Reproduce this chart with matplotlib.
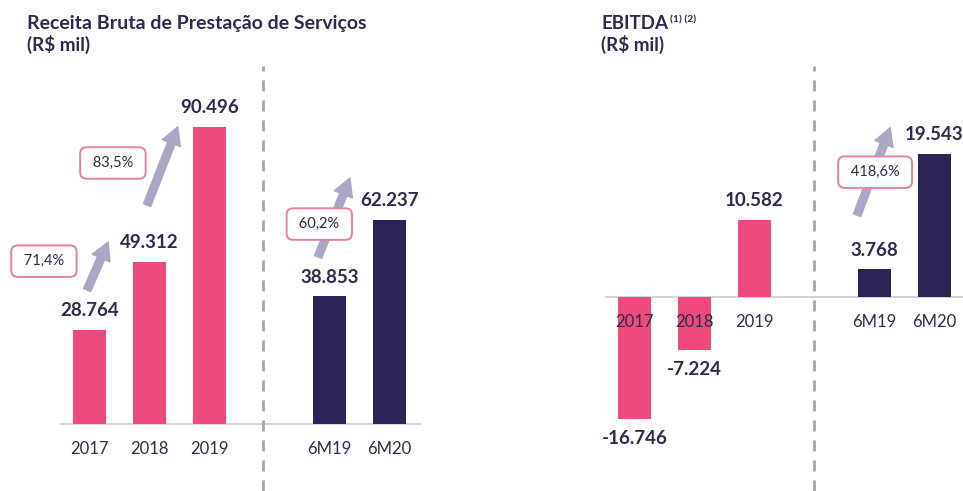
import matplotlib
matplotlib.use('Agg')
import matplotlib.pyplot as plt

plt.rcParams['font.family'] = ['Lato', 'DejaVu Sans']

# data
categories = ['2017', '2018', '2019', '6M19', '6M20']
receita = [28764, 49312, 90496, 38853, 62237]
ebitda = [-16746, -7224, 10582, 3768, 19543]
receita_growth = [(0, 1, '71,4%'), (1, 2, '83,5%'), (3, 4, '60,2%')]
ebitda_growth = [(3, 4, '418,6%')]

# style
PINK = '#ee4a7b'
NAVY = '#2c2456'
TEXT = '#2f2b4f'
ARROW = '#aaa7c6'
BOX_EDGE = '#e9819f'
GRID = '#d0d0d0'
DASH = '#a6a6a6'
XPOS = [0, 1, 2, 4, 5]
COLORS = [PINK, PINK, PINK, NAVY, NAVY]
W, H = 963, 491
UNIT = 60.0  # px between categories


def make_axes(fig, px_left, px_right, x0_px, y0_px, px_per_unit):
    ax = fig.add_axes([px_left / W, 0, (px_right - px_left) / W, 1])
    ax.set_xlim((px_left - x0_px) / UNIT, (px_right - x0_px) / UNIT)
    ax.set_ylim(-(H - y0_px) / px_per_unit, y0_px / px_per_unit)
    ax.axis('off')
    return ax


def fmt(v):
    return f'{v:,}'.replace(',', '.')


def draw_panel(ax, values, sep_x, arrows, boxes, growth):
    ax.bar(XPOS, values, width=0.55, color=COLORS, zorder=2)
    ax.plot([-0.47, 5.5], [0, 0], color=GRID, lw=1.3, zorder=1)
    ax.axvline(sep_x, ymin=0, ymax=1 - 66 / H, color=DASH, lw=2,
               dashes=(4, 3.2), zorder=1)
    for x, v, cat in zip(XPOS, values, categories):
        off = 14 if v >= 0 else -14
        ax.annotate(fmt(v), (x, v), xytext=(0, off), textcoords='offset points',
                    ha='center', va='center', fontsize=13.5, fontweight='bold',
                    color=TEXT, zorder=4)
        ax.annotate(cat, (x, 0), xytext=(0, -18), textcoords='offset points',
                    ha='center', va='center', fontsize=12, color=TEXT, zorder=4)
    for (tail, head), (bx, by), (_, _, label) in zip(arrows, boxes, growth):
        ax.annotate('', xy=head, xytext=tail,
                    arrowprops=dict(arrowstyle='simple,head_length=0.9,head_width=1.0,tail_width=0.4',
                                    color=ARROW, mutation_scale=14, shrinkA=0, shrinkB=0),
                    zorder=3)
        ax.text(bx, by, ' ' + label + ' ', ha='center', va='center', fontsize=10.5,
                color=TEXT, zorder=5,
                bbox=dict(boxstyle='round,pad=0.6,rounding_size=0.45',
                          fc='white', ec=BOX_EDGE, lw=1.4))


fig = plt.figure(figsize=(W / 100, H / 100), dpi=100)

# left panel: Receita Bruta
left = make_axes(fig, 0, 480, 89.5, 424, 3.283 / 1000)
draw_panel(left, receita, 2.89,
           arrows=[((-0.04, 40800), (0.31, 55400)),
                   ((0.96, 66700), (1.47, 90500)),
                   ((3.81, 50900), (4.34, 74900))],
           boxes=[(-0.76, 49600), (0.39, 79500), (3.83, 60900)],
           growth=receita_growth)

# right panel: EBITDA
right = make_axes(fig, 480, 963, 634.5, 297, 7.3 / 1000)
draw_panel(right, ebitda, 2.99,
           arrows=[((3.71, 11200), (4.26, 23200))],
           boxes=[(4.01, 17100)],
           growth=ebitda_growth)

# titles
fig.text(27 / W, 1 - 29 / H, 'Receita Bruta de Prestação de Serviços',
         fontsize=14, fontweight='bold', color=TEXT, va='baseline')
fig.text(27 / W, 1 - 51 / H, '(R$ mil)', fontsize=13.5, fontweight='bold',
         color=TEXT, va='baseline')
fig.text(601 / W, 1 - 29 / H, 'EBITDA', fontsize=13.5, fontweight='bold',
         color=TEXT, va='baseline')
fig.text(670 / W, 1 - 22 / H, '(1) (2)', fontsize=7.5, fontweight='bold',
         color=TEXT, va='baseline')
fig.text(601 / W, 1 - 51 / H, '(R$ mil)', fontsize=13.5, fontweight='bold',
         color=TEXT, va='baseline')

fig.savefig('out.png', dpi=100, facecolor='white')
